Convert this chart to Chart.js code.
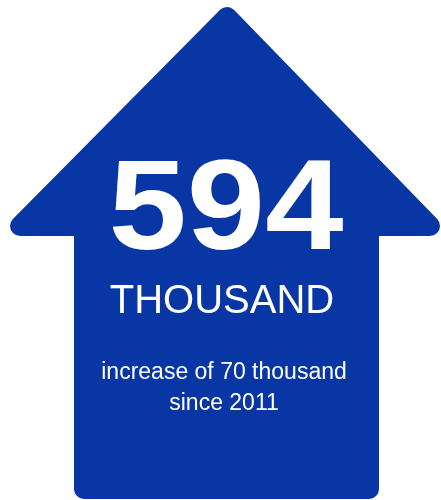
<!DOCTYPE html>
<html>
<head>
<meta charset="utf-8">
<script src="https://cdn.jsdelivr.net/npm/chart.js@4"></script>
<style>
  body { margin: 0; background: #fff; }
  canvas { display: block; }
</style>
</head>
<body>
<canvas id="arrowChart" width="441" height="500"></canvas>
<script>
// arrow outline (points of the shape, drawn on a 441 x 500 value grid)
const arrowX = [226.5, 369, 369, 430, 227, 20, 84, 84, 226.5];
const arrowY = [489, 489, 226, 226, 17, 226, 226, 489, 489];

const headline = 594;
const unitLabel = "THOUSAND";
const increase = 70;
const sinceYear = 2011;

const blue = "#0836a4";

const points = arrowX.map((x, i) => ({ x: x, y: arrowY[i] }));

// text inside the arrow
const textPlugin = {
  id: "arrowText",
  afterDraw(chart) {
    const ctx = chart.ctx;
    const cx = 225;
    ctx.save();
    ctx.fillStyle = "#fff";
    ctx.textAlign = "center";
    ctx.textBaseline = "alphabetic";

    ctx.save();
    ctx.translate(cx + 1, 249);
    ctx.scale(1.1, 1);
    ctx.font = "bold 128px 'Liberation Sans', Arial, sans-serif";
    ctx.fillText(String(headline), 0, 0);
    ctx.restore();

    ctx.font = "40px 'Liberation Sans', Arial, sans-serif";
    ctx.fillText(unitLabel, cx - 3, 313);

    ctx.font = "23px 'Liberation Sans', Arial, sans-serif";
    ctx.fillText(`increase of ${increase} thousand`, cx - 1, 379);
    ctx.fillText(`since ${sinceYear}`, cx - 1, 410);
    ctx.restore();
  }
};

new Chart(document.getElementById("arrowChart"), {
  type: "scatter",
  data: {
    datasets: [{
      data: points,
      showLine: true,
      fill: "shape",
      backgroundColor: blue,
      borderColor: blue,
      borderWidth: 20,
      borderJoinStyle: "round",
      borderCapStyle: "round",
      pointRadius: 0,
      tension: 0,
      clip: false
    }]
  },
  options: {
    responsive: false,
    animation: false,
    layout: { padding: 0 },
    plugins: {
      legend: { display: false },
      tooltip: { enabled: false }
    },
    scales: {
      x: { type: "linear", min: 0, max: 441, display: false },
      y: { type: "linear", min: 0, max: 500, reverse: true, display: false }
    }
  },
  plugins: [textPlugin]
});
</script>
</body>
</html>
